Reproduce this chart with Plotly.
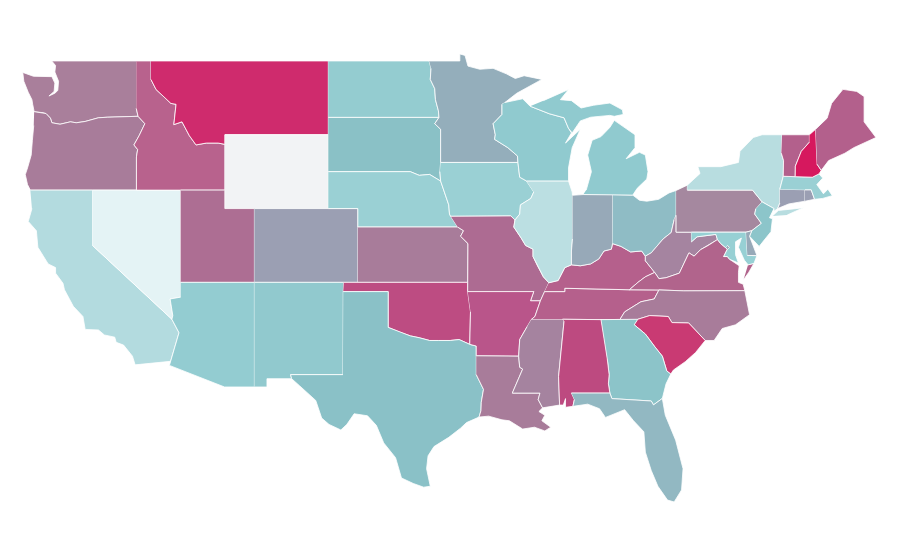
import plotly.graph_objects as go

# Plotly's geo basemap needs a CDN topojson (no network), so state outlines are
# hand-approximated lon/lat lists, drawn through linear cartesian axes.
WA = [(-117.04,49),(-122.76,49),(-122.5,48.75),(-122.55,48.4),(-122.3,47.9),(-122.35,47.4),(-122.55,47.25),(-122.95,47.1),(-122.6,47.35),(-122.55,47.8),(-122.75,48.15),(-123.2,48.15),(-124,48.17),(-124.72,48.38),(-124.65,47.9),(-124.35,47.3),(-124.1,46.9),(-124.05,46.65),(-123.95,46.25),(-123.4,46.2),(-123.15,46.15),(-122.85,45.9),(-122.75,45.65),(-122.2,45.57),(-121.5,45.7),(-121.1,45.65),(-120.5,45.72),(-119.6,45.92),(-119,45.95),(-116.92,46),(-117.04,46.42)]
OR = [(-123.95,46.25),(-123.4,46.2),(-123.15,46.15),(-122.85,45.9),(-122.75,45.65),(-122.2,45.57),(-121.5,45.7),(-121.1,45.65),(-120.5,45.72),(-119.6,45.92),(-119,45.95),(-116.92,46),(-116.46,45.6),(-116.85,44.95),(-117.2,44.45),(-116.95,44.2),(-117.03,43.8),(-117.03,42),(-120,42),(-124.21,42),(-124.4,42.3),(-124.55,42.84),(-124.4,43.2),(-124.15,43.9),(-124.07,44.7),(-123.98,45.5)]
CA = [(-124.21,42),(-120,42),(-120,39),(-114.63,35),(-114.15,34.27),(-114.5,33.4),(-114.72,32.72),(-117.12,32.53),(-117.3,33),(-117.9,33.6),(-118.4,33.75),(-118.5,34.03),(-119.2,34.15),(-119.6,34.42),(-120.5,34.45),(-120.65,35.15),(-121.3,35.7),(-121.9,36.6),(-122,36.95),(-122.5,37.5),(-122.5,37.8),(-123,38),(-123.7,38.9),(-123.8,39.8),(-124.35,40.3),(-124.1,41)]
NV = [(-120,42),(-114.04,42),(-114.04,36.2),(-114.75,36.1),(-114.57,35.2),(-114.63,35),(-120,39)]
ID = [(-117.04,49),(-116.05,49),(-116.05,48),(-115.7,47.45),(-114.7,46.7),(-114.35,46.65),(-114.5,45.55),(-113.95,45.7),(-113.45,44.95),(-113,44.45),(-112.3,44.55),(-111.5,44.55),(-111.05,44.48),(-111.05,42),(-117.03,42),(-117.03,43.8),(-116.95,44.2),(-117.2,44.45),(-116.85,44.95),(-116.46,45.6),(-116.92,46),(-117.04,46.42)]
MT = [(-116.05,49),(-104.05,49),(-104.05,45),(-111.05,45),(-111.05,44.48),(-111.5,44.55),(-112.3,44.55),(-113,44.45),(-113.45,44.95),(-113.95,45.7),(-114.5,45.55),(-114.35,46.65),(-114.7,46.7),(-115.7,47.45),(-116.05,48)]
WY = [(-111.05,45),(-104.05,45),(-104.05,41),(-111.05,41)]
UT = [(-114.04,42),(-111.05,42),(-111.05,41),(-109.05,41),(-109.05,37),(-114.04,37)]
AZ = [(-114.04,37),(-109.05,37),(-109.05,31.33),(-111.07,31.33),(-114.8,32.5),(-114.72,32.72),(-114.5,33.4),(-114.15,34.27),(-114.63,35),(-114.57,35.2),(-114.75,36.1),(-114.04,36.2)]
CO = [(-109.05,41),(-102.05,41),(-102.05,37),(-109.05,37)]
NM = [(-109.05,37),(-103,37),(-103.04,36.5),(-103.06,32),(-106.6,32),(-106.53,31.78),(-108.2,31.78),(-108.2,31.33),(-109.05,31.33)]
ND = [(-104.05,49),(-97.23,49),(-97.1,48.6),(-97.15,48),(-96.85,47.5),(-96.8,46.9),(-96.6,46.3),(-96.56,45.94),(-104.05,45.94)]
SD = [(-104.05,45.94),(-96.56,45.94),(-96.85,45.6),(-96.45,45.3),(-96.45,43.5),(-96.5,43),(-96.45,42.49),(-97.2,42.85),(-97.9,42.8),(-98.5,43),(-104.05,43)]
NE = [(-104.05,43),(-98.5,43),(-97.9,42.8),(-97.2,42.85),(-96.45,42.49),(-96.1,41.7),(-95.9,41.2),(-95.85,40.7),(-95.77,40.58),(-95.3,40),(-102.05,40),(-102.05,41),(-104.05,41)]
KS = [(-102.05,40),(-95.3,40),(-94.9,39.8),(-95.1,39.5),(-94.6,39.1),(-94.62,37),(-102.05,37)]
OK = [(-103,37),(-94.62,37),(-94.62,36.5),(-94.43,35.4),(-94.48,33.64),(-95.2,33.9),(-95.8,33.85),(-96.6,33.85),(-97.2,33.85),(-97.9,34),(-98.5,34.1),(-99.2,34.3),(-100,34.56),(-100,36.5),(-103.04,36.5)]
TX = [(-103.04,36.5),(-100,36.5),(-100,34.56),(-99.2,34.3),(-98.5,34.1),(-97.9,34),(-97.2,33.85),(-96.6,33.85),(-95.8,33.85),(-95.2,33.9),(-94.48,33.64),(-94.04,33.55),(-94.04,32),(-93.55,31.2),(-93.7,30.5),(-93.72,30.05),(-93.85,29.7),(-94.7,29.4),(-95.1,29.1),(-95.9,28.6),(-96.9,28.1),(-97.3,27.6),(-97.4,26.9),(-97.15,25.95),(-97.6,25.9),(-98.3,26.1),(-99.1,26.4),(-99.5,27.5),(-100.3,28.3),(-100.8,29.25),(-101.4,29.77),(-102.3,29.88),(-102.8,29.3),(-103.2,29),(-104,29.3),(-104.5,29.65),(-104.9,30.6),(-106,31.4),(-106.53,31.78),(-106.6,32),(-103.06,32)]
MN = [(-97.23,49),(-95.15,49),(-95.15,49.38),(-94.8,49.3),(-94.6,48.72),(-93.8,48.55),(-92.9,48.6),(-92,48.3),(-91.4,48.05),(-90.8,48.2),(-89.6,48),(-90.5,47.6),(-91.3,47.25),(-92.1,46.75),(-92.3,46.65),(-92.3,46.1),(-92.9,45.6),(-92.75,45),(-92.8,44.75),(-91.9,44.3),(-91.25,43.85),(-91.22,43.5),(-96.45,43.5),(-96.45,45.3),(-96.85,45.6),(-96.56,45.94),(-96.6,46.3),(-96.8,46.9),(-96.85,47.5),(-97.15,48),(-97.1,48.6)]
IA = [(-96.45,43.5),(-91.22,43.5),(-91.1,42.7),(-90.65,42.5),(-90.15,41.9),(-90.35,41.55),(-91.05,41.2),(-91.1,40.7),(-91.42,40.38),(-91.7,40.6),(-95.77,40.58),(-95.85,40.7),(-95.9,41.2),(-96.1,41.7),(-96.45,42.49),(-96.5,43)]
MO = [(-95.77,40.58),(-91.7,40.6),(-91.42,40.38),(-91.5,40),(-91,39.4),(-90.7,39),(-90.2,38.8),(-90.2,38.4),(-89.9,37.9),(-89.5,37.3),(-89.13,36.98),(-89.42,36.5),(-89.7,36),(-90.37,36),(-90.15,36.5),(-94.62,36.5),(-94.62,37),(-94.6,39.1),(-95.1,39.5),(-94.9,39.8),(-95.3,40)]
AR = [(-94.62,36.5),(-90.15,36.5),(-90.37,36),(-89.7,36),(-90.07,35.15),(-90.3,35),(-90.6,34.6),(-91.1,33.9),(-91.17,33),(-94.04,33.02),(-94.04,33.55),(-94.48,33.64),(-94.43,35.4)]
LA = [(-94.04,33.02),(-91.17,33),(-91.1,32.4),(-90.9,32.3),(-91.6,31),(-89.73,31),(-89.85,30.65),(-89.55,30.2),(-89.8,30),(-89.4,29.8),(-89.6,29.5),(-89,29.15),(-89.4,28.95),(-90.1,29.15),(-90.9,29.05),(-91.8,29.5),(-92.3,29.55),(-93.2,29.75),(-93.85,29.7),(-93.72,30.05),(-93.7,30.5),(-93.55,31.2),(-94.04,32)]
MS = [(-90.3,35),(-88.2,35),(-88.1,34.9),(-88.47,31.9),(-88.4,30.35),(-89.55,30.2),(-89.85,30.65),(-89.73,31),(-91.6,31),(-90.9,32.3),(-91.1,32.4),(-91.17,33),(-91.1,33.9),(-90.6,34.6)]
TN = [(-90.3,35),(-90.07,35.15),(-89.7,36),(-89.42,36.5),(-88.05,36.5),(-88.05,36.68),(-83.68,36.6),(-81.68,36.59),(-82,36.1),(-82.9,35.95),(-84,35.4),(-84.32,34.99),(-85.6,34.98),(-88.2,35)]
KY = [(-89.42,36.5),(-88.05,36.5),(-88.05,36.68),(-83.68,36.6),(-83.1,37),(-82.6,37.3),(-81.97,37.54),(-82.6,38.17),(-82.6,38.42),(-82.85,38.7),(-83.6,38.65),(-84.25,38.95),(-84.82,39.1),(-84.9,38.8),(-85.4,38.7),(-85.75,38.27),(-86.3,38),(-87,37.9),(-87.6,37.95),(-88.05,37.8),(-88.5,37.1),(-89.13,36.98)]
IL = [(-90.65,42.5),(-87.8,42.5),(-87.55,41.9),(-87.53,41.72),(-87.53,39.35),(-87.6,38.7),(-87.6,37.95),(-88.05,37.8),(-88.5,37.1),(-89.13,36.98),(-89.5,37.3),(-89.9,37.9),(-90.2,38.4),(-90.2,38.8),(-90.7,39),(-91,39.4),(-91.5,40),(-91.42,40.38),(-91.1,40.7),(-91.05,41.2),(-90.35,41.55),(-90.15,41.9)]
IN = [(-87.53,41.72),(-87.2,41.75),(-86.8,41.76),(-84.8,41.76),(-84.82,39.1),(-84.9,38.8),(-85.4,38.7),(-85.75,38.27),(-86.3,38),(-87,37.9),(-87.6,37.95),(-87.6,38.7),(-87.53,39.35)]
OH = [(-84.8,41.76),(-83.45,41.73),(-83,41.45),(-82.5,41.4),(-81.7,41.5),(-81,41.85),(-80.52,41.98),(-80.52,40.64),(-80.65,40.4),(-80.85,39.7),(-81.4,39.35),(-81.75,39),(-82.2,38.6),(-82.6,38.42),(-82.85,38.7),(-83.6,38.65),(-84.25,38.95),(-84.82,39.1)]
WV = [(-80.52,40.64),(-80.52,39.72),(-79.48,39.72),(-79.48,39.2),(-79.1,39.47),(-78.45,39.55),(-77.83,39.6),(-77.72,39.32),(-78.35,39),(-78.87,38.77),(-79.3,38.42),(-79.65,38.6),(-80.3,37.5),(-81.2,37.25),(-81.68,37.2),(-81.97,37.54),(-82.6,38.17),(-82.6,38.42),(-82.2,38.6),(-81.75,39),(-81.4,39.35),(-80.85,39.7),(-80.65,40.4)]
VA = [(-83.68,36.6),(-81.68,36.59),(-80,36.54),(-75.87,36.55),(-75.98,36.9),(-76.3,37),(-76.3,37.55),(-76.25,37.9),(-76.9,38.25),(-77.05,38.4),(-77.3,38.4),(-77.05,38.8),(-77.5,39.1),(-77.72,39.32),(-78.35,39),(-78.87,38.77),(-79.3,38.42),(-79.65,38.6),(-80.3,37.5),(-81.2,37.25),(-81.68,37.2),(-81.97,37.54),(-82.6,37.3),(-83.1,37),(-83.68,36.6),None,(-75.95,37.15),(-75.6,37.55),(-75.25,38.03),(-75.65,37.95)]
NC = [(-84.32,34.99),(-84,35.4),(-82.9,35.95),(-82,36.1),(-81.68,36.59),(-80,36.54),(-75.87,36.55),(-75.55,35.25),(-76.5,34.7),(-77.4,34.5),(-77.95,33.85),(-78.55,33.85),(-79.67,34.8),(-80.8,34.82),(-81.05,35.15),(-82.3,35.2),(-83.11,35)]
SC = [(-83.11,35),(-82.3,35.2),(-81.05,35.15),(-80.8,34.82),(-79.67,34.8),(-78.55,33.85),(-79.2,33.2),(-79.9,32.7),(-80.7,32.25),(-80.88,32.03),(-81.15,32.2),(-81.45,33),(-81.95,33.5),(-82.6,34.2),(-83.35,34.7)]
GA = [(-85.6,34.98),(-84.32,34.99),(-83.11,35),(-83.35,34.7),(-82.6,34.2),(-81.95,33.5),(-81.45,33),(-81.15,32.2),(-80.88,32.03),(-81.2,31.5),(-81.45,30.71),(-82.05,30.36),(-82.2,30.57),(-84.86,30.7),(-85,31),(-85.1,31.5),(-85.05,32),(-85.18,32.87)]
AL = [(-88.2,35),(-85.6,34.98),(-85.18,32.87),(-85.05,32),(-85.1,31.5),(-85,31),(-87.6,31),(-87.4,30.65),(-87.5,30.28),(-88,30.23),(-88,30.7),(-88.15,30.35),(-88.4,30.35),(-88.47,31.9),(-88.1,34.9)]
FL = [(-87.6,31),(-85,31),(-84.86,30.7),(-82.2,30.57),(-82.05,30.36),(-81.45,30.71),(-81.25,29.8),(-80.55,28.45),(-80.05,26.9),(-80.15,25.75),(-80.65,25.1),(-81.1,25.2),(-81.75,25.95),(-82.2,26.8),(-82.6,27.8),(-82.7,28.9),(-83.4,29.5),(-84,30.1),(-85.3,29.68),(-85.7,30.15),(-86.5,30.4),(-87.5,30.28),(-87.4,30.65)]
WI = [(-92.1,46.75),(-90.9,46.95),(-90.4,46.55),(-89.1,46.14),(-88.1,45.92),(-87.8,45.35),(-87.6,45.1),(-88,44.55),(-87,45.3),(-87.55,44.3),(-87.8,43.2),(-87.8,42.5),(-90.65,42.5),(-91.1,42.7),(-91.22,43.5),(-91.25,43.85),(-91.9,44.3),(-92.8,44.75),(-92.75,45),(-92.9,45.6),(-92.3,46.1),(-92.3,46.65)]
MI = [(-86.8,41.76),(-84.8,41.76),(-83.45,41.73),(-83.15,42.1),(-82.5,42.6),(-82.42,43),(-82.6,43.9),(-83,44.05),(-83.9,43.7),(-83.3,44.3),(-83.3,45),(-84.7,45.78),(-85,45.4),(-85.6,44.9),(-86.2,44.7),(-86.5,43.9),(-86.25,43),(-86.6,42),None,(-90.4,46.55),(-89.1,46.14),(-88.1,45.92),(-87.8,45.35),(-87.55,45.1),(-87,45.75),(-86.3,45.95),(-85,46.05),(-84.7,46),(-84.1,46.1),(-84.15,46.35),(-85,46.72),(-86.1,46.6),(-86.95,46.45),(-87.6,46.85),(-88.35,46.9),(-87.8,47.45),(-88.5,47.2),(-89.5,46.85)]
PA = [(-80.52,41.98),(-79.76,42.27),(-79.76,42),(-75.35,42),(-74.7,41.36),(-75.13,40.98),(-75.2,40.7),(-74.75,40.2),(-75.4,39.8),(-75.79,39.72),(-80.52,39.72),(-80.52,40.64)]
NY = [(-79.76,42.27),(-78.9,42.9),(-79.05,43.27),(-77.5,43.27),(-76.3,43.5),(-76.2,44.1),(-75.3,44.85),(-74.7,45),(-73.35,45),(-73.4,44),(-73.25,43.6),(-73.27,42.75),(-73.5,42.05),(-73.5,41.3),(-73.65,41),(-73.9,40.85),(-73.9,41),(-74.7,41.36),(-75.35,42),(-79.76,42),None,(-74,40.6),(-73.6,40.9),(-72.6,40.98),(-71.9,41.05),(-73,40.65)]
NJ = [(-74.7,41.36),(-73.9,41),(-74.2,40.5),(-74,40.45),(-74.1,39.75),(-74.9,38.95),(-75.55,39.5),(-75.4,39.8),(-74.75,40.2),(-75.2,40.7),(-75.13,40.98)]
DE = [(-75.79,39.72),(-75.4,39.8),(-75.55,39.5),(-75.05,38.45),(-75.7,38.46)]
MD = [(-79.48,39.72),(-75.79,39.72),(-75.7,38.46),(-75.05,38.45),(-75.25,38.03),(-75.65,37.95),(-75.9,38.2),(-76.3,38.9),(-76.1,39.4),(-76.5,39.2),(-76.5,38.5),(-76.3,38.05),(-76.9,38.25),(-77.05,38.4),(-77.3,38.4),(-77.05,38.8),(-77.5,39.1),(-77.72,39.32),(-77.83,39.6),(-78.45,39.55),(-79.1,39.47),(-79.48,39.2)]
DC = [(-77.12,38.93),(-77.04,39),(-76.91,38.89),(-77.04,38.79)]
CT = [(-73.5,42.05),(-71.8,42.02),(-71.8,41.4),(-72.9,41.25),(-73.65,41),(-73.5,41.3)]
RI = [(-71.8,42.02),(-71.38,42.02),(-71.15,41.5),(-71.8,41.4)]
MA = [(-73.5,42.05),(-73.27,42.75),(-71.3,42.7),(-70.85,42.88),(-70.6,42.65),(-71,42.3),(-70.55,41.8),(-70.25,42.05),(-69.95,41.7),(-70.6,41.55),(-71.15,41.5),(-71.38,42.02),(-71.8,42.02)]
VT = [(-73.35,45),(-71.5,45),(-71.5,44.6),(-72.05,44.1),(-72.45,43.3),(-72.46,42.73),(-73.27,42.75),(-73.25,43.6),(-73.4,44)]
NH = [(-71.5,45),(-71.08,45.3),(-70.98,43.4),(-70.7,43.07),(-70.85,42.88),(-71.3,42.7),(-72.46,42.73),(-72.45,43.3),(-72.05,44.1),(-71.5,44.6)]
ME = [(-71.08,45.3),(-70.3,45.9),(-70,46.7),(-69.23,47.46),(-68.3,47.35),(-67.8,47.07),(-67.8,45.7),(-67.45,45.3),(-67,44.85),(-68.5,44.3),(-69.1,44),(-70.2,43.6),(-70.7,43.07),(-70.98,43.4)]

state_names = ["WA","OR","CA","NV","ID","MT","WY","UT","AZ","CO","NM","ND","SD","NE","KS","OK","TX","MN","IA","MO","AR","LA","MS","TN","KY","IL","IN","OH","WV","VA","NC","SC","GA","AL","FL","WI","MI","PA","NY","NJ","MD","DE","DC","CT","RI","MA","VT","NH","ME"]
state_outlines = [WA,OR,CA,NV,ID,MT,WY,UT,AZ,CO,NM,ND,SD,NE,KS,OK,TX,MN,IA,MO,AR,LA,MS,TN,KY,IL,IN,OH,WV,VA,NC,SC,GA,AL,FL,WI,MI,PA,NY,NJ,MD,DE,DC,CT,RI,MA,VT,NH,ME]
state_colors = ["#a97f9b","#a87c9a","#b3dbdf","#e4f3f5","#b8628d","#cf2b6d","#f2f3f5","#ad6e93","#93ccd1","#9b9fb3","#91c9ce","#94ccd0","#8ac1c6","#9ad0d4","#a87c9a","#bd4c82","#8ac1c7","#94aebb","#9ad0d4","#ad6b92","#b9558a","#a87c9a","#a5839f","#b5608c","#b5608c","#bbdfe2","#97a9b8","#8fbcc5","#a584a0","#b1648c","#a87c9a","#c93a73","#8cc4c9","#bd4a80","#92b8c2","#90cacf","#90cacf","#a5889f","#b8dde0","#8cc5ca","#97d0d4","#97a9b8","#97a9b8","#9b9fb3","#9b9fb3","#9ad0d4","#b3608c","#d6185e","#b3608c"]

fig = go.Figure()
for name, outline, color in zip(state_names, state_outlines, state_colors):
    lons = [p[0] if p else None for p in outline]
    lats = [p[1] if p else None for p in outline]
    fig.add_trace(go.Scatter(x=lons, y=lats, mode="lines", fill="toself", fillcolor=color,
                             line=dict(color="white", width=0.8), name=name, hoverinfo="name", showlegend=False))
fig.update_xaxes(range=[-125.72,-64.83], visible=False)
fig.update_yaxes(range=[21.52,51.87], visible=False)
fig.update_layout(width=900, height=560, margin=dict(l=0,r=0,t=0,b=0), paper_bgcolor="white", plot_bgcolor="white")
fig.write_html("out.html")
